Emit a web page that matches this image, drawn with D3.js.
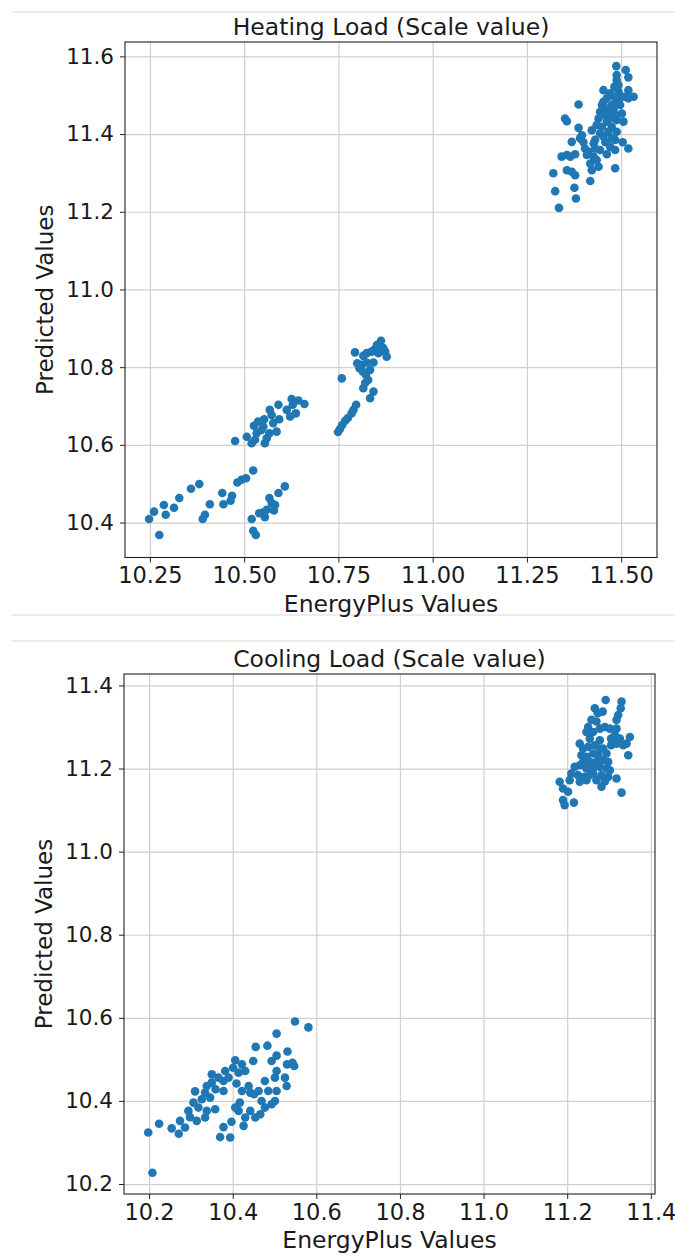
<!DOCTYPE html>
<html>
<head>
<meta charset="utf-8">
<script src="https://cdn.jsdelivr.net/npm/d3@7"></script>
<style>
  body { margin: 0; background: #fff; }
  text { font-family: "DejaVu Sans", sans-serif; fill: #1a1a1a; }
</style>
</head>
<body>
<div id="chart"></div>
<script>

// heating load: EnergyPlus (x) vs predicted (y)
const heatingActual = [
    11.487, 11.512, 11.519, 11.488, 11.482, 11.453, 11.471, 11.493, 11.519, 11.533,
    11.511, 11.387, 11.449, 11.475, 11.444, 11.462, 11.484, 11.502, 11.351, 11.356,
    11.440, 11.462, 11.488, 11.506, 11.449, 11.475, 11.387, 11.422, 11.396, 11.444,
    11.466, 11.488, 11.431, 11.369, 11.400, 11.458, 11.484, 11.504, 11.519, 11.484,
    11.431, 11.378, 11.356, 11.342, 11.365, 11.409, 11.427, 11.462, 11.418, 11.440,
    11.356, 11.369, 11.378, 11.422, 11.484, 11.320, 11.418, 11.325, 11.376, 11.380,
    11.335, 11.453, 11.462, 11.480, 11.493, 11.497, 11.471, 11.453, 11.475, 11.427,
    11.413, 11.444, 11.471, 11.391, 11.404, 11.435, 11.502, 11.484, 11.462, 11.519,
    11.488, 11.493, 11.435, 11.453,
    10.863, 10.874, 10.878, 10.869, 10.847, 10.838, 10.825, 10.816, 10.794, 10.800,
    10.812, 10.825, 10.843, 10.834, 10.823, 10.829, 10.816, 10.843, 10.834, 10.797,
    10.790, 10.785, 10.759, 10.856, 10.852, 10.806, 10.815, 10.821, 10.775, 10.768,
    10.760, 10.754, 10.749,
    10.476, 10.507, 10.520, 10.526, 10.533, 10.546, 10.553, 10.555, 10.560, 10.568,
    10.573, 10.577, 10.586, 10.591, 10.593, 10.567, 10.537, 10.613, 10.622, 10.626,
    10.637, 10.644, 10.660, 10.629, 10.551, 10.529,
    10.248, 10.261, 10.275, 10.287, 10.292, 10.314, 10.328, 10.359, 10.381, 10.390,
    10.396, 10.409, 10.442, 10.445, 10.464, 10.468, 10.482, 10.493, 10.505, 10.524,
    10.520, 10.524, 10.531, 10.540, 10.549, 10.555, 10.560, 10.567, 10.573, 10.579,
    10.582, 10.591, 10.608
];
const heatingPredicted = [
    11.575, 11.565, 11.546, 11.539, 11.522, 11.513, 11.505, 11.509, 11.513, 11.496,
    11.496, 11.476, 11.475, 11.475, 11.457, 11.453, 11.449, 11.453, 11.440, 11.433,
    11.440, 11.432, 11.436, 11.432, 11.419, 11.419, 11.416, 11.410, 11.397, 11.402,
    11.406, 11.406, 11.385, 11.380, 11.379, 11.379, 11.385, 11.379, 11.363, 11.359,
    11.363, 11.348, 11.346, 11.342, 11.342, 11.346, 11.342, 11.348, 11.324, 11.316,
    11.307, 11.303, 11.294, 11.307, 11.312, 11.299, 11.279, 11.253, 11.262, 11.234,
    11.210, 11.483, 11.466, 11.462, 11.483, 11.475, 11.440, 11.393, 11.389, 11.376,
    11.355, 11.359, 11.367, 11.389, 11.363, 11.333, 11.496, 11.492, 11.492, 11.492,
    11.552, 11.526, 11.423, 11.449,
    10.868, 10.840, 10.827, 10.849, 10.846, 10.840, 10.836, 10.829, 10.838, 10.810,
    10.806, 10.812, 10.812, 10.793, 10.780, 10.767, 10.746, 10.737, 10.720, 10.703,
    10.690, 10.681, 10.771, 10.836, 10.857, 10.797, 10.788, 10.759, 10.669, 10.662,
    10.651, 10.641, 10.633,
    10.610, 10.621, 10.604, 10.649, 10.630, 10.638, 10.666, 10.604, 10.617, 10.690,
    10.677, 10.656, 10.634, 10.703, 10.666, 10.630, 10.660, 10.690, 10.673, 10.718,
    10.681, 10.714, 10.705, 10.703, 10.647, 10.613,
    10.409, 10.428, 10.368, 10.445, 10.420, 10.438, 10.463, 10.487, 10.499, 10.409,
    10.420, 10.447, 10.476, 10.447, 10.456, 10.469, 10.503, 10.510, 10.514, 10.534,
    10.409, 10.379, 10.368, 10.424, 10.426, 10.414, 10.433, 10.463, 10.450, 10.431,
    10.445, 10.476, 10.493
];

// cooling load
const coolingActual = [
    11.292, 11.330, 11.328, 11.322, 11.318, 11.266, 11.273, 11.285, 11.258, 11.250,
    11.246, 11.262, 11.278, 11.290, 11.302, 11.318, 11.314, 11.305, 11.305, 11.326,
    11.350, 11.342, 11.346, 11.230, 11.238, 11.250, 11.266, 11.234, 11.246, 11.262,
    11.274, 11.254, 11.270, 11.286, 11.298, 11.230, 11.218, 11.246, 11.278, 11.294,
    11.210, 11.226, 11.242, 11.262, 11.282, 11.298, 11.318, 11.206, 11.230, 11.246,
    11.270, 11.290, 11.282, 11.330, 11.182, 11.190, 11.202, 11.190, 11.194, 11.216,
    11.254, 11.278, 11.286, 11.294, 11.238, 11.262, 11.302, 11.318, 11.334, 11.270,
    11.254, 11.278,
    10.549, 10.581, 10.505, 10.455, 10.483, 10.531, 10.505, 10.406, 10.449, 10.493,
    10.530, 10.547, 10.543, 10.422, 10.401, 10.414, 10.430, 10.382, 10.350, 10.366,
    10.390, 10.350, 10.378, 10.338, 10.359, 10.378, 10.310, 10.334, 10.326, 10.346,
    10.306, 10.294, 10.318, 10.338, 10.358, 10.298, 10.314, 10.334, 10.286, 10.271,
    10.254, 10.274, 10.224, 10.198, 10.208, 10.370, 10.394, 10.378, 10.397, 10.414,
    10.426, 10.430, 10.442, 10.454, 10.466, 10.477, 10.493, 10.501, 10.469, 10.442,
    10.462, 10.422, 10.438, 10.477, 10.501, 10.505, 10.505, 10.525, 10.529, 10.409,
    10.451, 10.485, 10.417, 10.406
];
const coolingPredicted = [
    11.365, 11.361, 11.345, 11.329, 11.317, 11.345, 11.333, 11.337, 11.317, 11.300,
    11.288, 11.288, 11.296, 11.300, 11.296, 11.296, 11.280, 11.272, 11.256, 11.272,
    11.276, 11.260, 11.232, 11.260, 11.248, 11.252, 11.256, 11.232, 11.228, 11.236,
    11.232, 11.216, 11.216, 11.220, 11.216, 11.208, 11.204, 11.200, 11.204, 11.200,
    11.188, 11.184, 11.180, 11.188, 11.184, 11.180, 11.176, 11.172, 11.168, 11.172,
    11.172, 11.169, 11.156, 11.142, 11.168, 11.152, 11.144, 11.124, 11.112, 11.118,
    11.272, 11.268, 11.248, 11.236, 11.216, 11.200, 11.196, 11.260, 11.256, 11.313,
    11.184, 11.248,
    10.591, 10.577, 10.562, 10.530, 10.533, 10.519, 10.509, 10.498, 10.496, 10.496,
    10.488, 10.484, 10.492, 10.488, 10.480, 10.468, 10.472, 10.472, 10.464, 10.456,
    10.456, 10.444, 10.448, 10.436, 10.428, 10.424, 10.423, 10.420, 10.404, 10.408,
    10.396, 10.376, 10.384, 10.376, 10.380, 10.361, 10.352, 10.360, 10.336, 10.321,
    10.334, 10.352, 10.345, 10.324, 10.227, 10.313, 10.312, 10.337, 10.350, 10.376,
    10.340, 10.360, 10.376, 10.360, 10.368, 10.384, 10.392, 10.400, 10.400, 10.420,
    10.424, 10.424, 10.436, 10.448, 10.456, 10.472, 10.424, 10.456, 10.436, 10.442,
    10.416, 10.424, 10.396, 10.384
];

const heatingXTicks = [10.25, 10.5, 10.75, 11.0, 11.25, 11.5];
const heatingYTicks = [10.4, 10.6, 10.8, 11.0, 11.2, 11.4, 11.6];
const coolingXTicks = [10.2, 10.4, 10.6, 10.8, 11.0, 11.2, 11.4];
const coolingYTicks = [10.2, 10.4, 10.6, 10.8, 11.0, 11.2, 11.4];

const width = 675;
const height = 1256;

const svg = d3.select("#chart").append("svg")
    .attr("width", width)
    .attr("height", height);

svg.append("rect")
    .attr("width", width)
    .attr("height", height)
    .attr("fill", "white");

// thin separators between the notebook cells
[12, 615, 641].forEach(y => {
    svg.append("line")
        .attr("x1", 12).attr("x2", width)
        .attr("y1", y).attr("y2", y)
        .attr("stroke", "#d9d9d9")
        .attr("stroke-width", 1);
});

function drawPanel(p) {
    const xScale = d3.scaleLinear().domain(p.xDomain).range([p.left, p.right]);
    const yScale = d3.scaleLinear().domain(p.yDomain).range([p.bottom, p.top]);
    const g = svg.append("g");

    // grid
    g.append("g")
        .attr("transform", `translate(0,${p.bottom})`)
        .call(d3.axisBottom(xScale).tickValues(p.xTicks).tickSize(-(p.bottom - p.top)).tickFormat(""))
        .call(a => a.select(".domain").remove())
        .selectAll("line").attr("stroke", "#cfcfcf").attr("stroke-width", 1.2);

    g.append("g")
        .attr("transform", `translate(${p.left},0)`)
        .call(d3.axisLeft(yScale).tickValues(p.yTicks).tickSize(-(p.right - p.left)).tickFormat(""))
        .call(a => a.select(".domain").remove())
        .selectAll("line").attr("stroke", "#cfcfcf").attr("stroke-width", 1.2);

    // points
    g.selectAll(".dot")
        .data(p.xs.map((x, i) => ({ x: x, y: p.ys[i] })))
        .enter()
        .append("circle")
        .attr("class", "dot")
        .attr("cx", d => xScale(d.x))
        .attr("cy", d => yScale(d.y))
        .attr("r", 4.3)
        .attr("fill", "#1f77b4");

    // frame
    g.append("rect")
        .attr("x", p.left).attr("y", p.top)
        .attr("width", p.right - p.left)
        .attr("height", p.bottom - p.top)
        .attr("fill", "none")
        .attr("stroke", "#222")
        .attr("stroke-width", 1.1);

    const xAxis = g.append("g")
        .attr("transform", `translate(0,${p.bottom})`)
        .call(d3.axisBottom(xScale).tickValues(p.xTicks).tickSize(5).tickPadding(5).tickFormat(d3.format(p.xFormat)));
    xAxis.select(".domain").remove();
    xAxis.selectAll("line").attr("stroke", "#222");
    xAxis.selectAll("text").attr("font-size", "22.5px").attr("font-family", "DejaVu Sans").attr("fill", "#1a1a1a");

    const yAxis = g.append("g")
        .attr("transform", `translate(${p.left},0)`)
        .call(d3.axisLeft(yScale).tickValues(p.yTicks).tickSize(5).tickPadding(6).tickFormat(d3.format(".1f")));
    yAxis.select(".domain").remove();
    yAxis.selectAll("line").attr("stroke", "#222");
    yAxis.selectAll("text").attr("font-size", "21.5px").attr("font-family", "DejaVu Sans").attr("fill", "#1a1a1a");

    g.append("text")
        .attr("x", (p.left + p.right) / 2)
        .attr("y", p.top - 7)
        .attr("text-anchor", "middle")
        .attr("font-size", "23.5px")
        .text(p.title);

    g.append("text")
        .attr("x", (p.left + p.right) / 2)
        .attr("y", p.bottom + 54)
        .attr("text-anchor", "middle")
        .attr("font-size", "23.5px")
        .text("EnergyPlus Values");

    g.append("text")
        .attr("transform", `translate(${p.left - 72},${(p.top + p.bottom) / 2}) rotate(-90)`)
        .attr("text-anchor", "middle")
        .attr("font-size", "23px")
        .text("Predicted Values");
}

drawPanel({
    title: "Heating Load (Scale value)",
    xs: heatingActual, ys: heatingPredicted,
    xTicks: heatingXTicks, yTicks: heatingYTicks, xFormat: ".2f",
    xDomain: [10.184, 11.595], yDomain: [10.310, 11.637],
    left: 125, right: 657, top: 42, bottom: 557.5
});

drawPanel({
    title: "Cooling Load (Scale value)",
    xs: coolingActual, ys: coolingPredicted,
    xTicks: coolingXTicks, yTicks: coolingYTicks, xFormat: ".1f",
    xDomain: [10.140, 11.410], yDomain: [10.176, 11.4275],
    left: 124, right: 655, top: 674, bottom: 1194
});

</script>
</body>
</html>
